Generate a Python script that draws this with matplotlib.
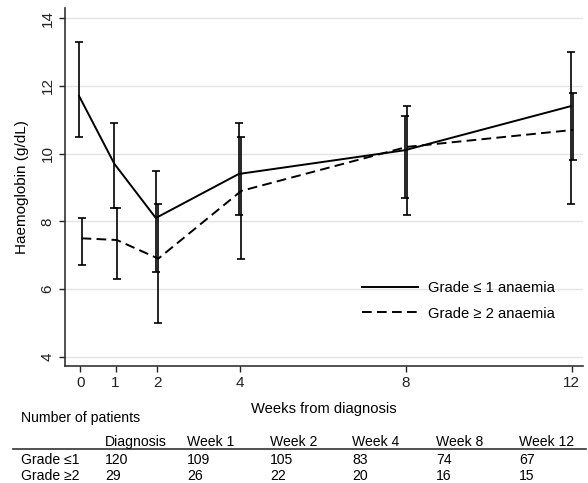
import numpy as np
import matplotlib.pyplot as plt

plt.rcParams['font.family'] = ['Liberation Sans', 'DejaVu Sans']

# visit time (weeks) and tick labels
visit_week = [0.15, 1, 2, 4, 8, 12]
week_labels = ['0', '1', '2', '4', '8', '12']

# Grade <=1 anaemia
g1_mean = [11.7, 9.7, 8.1, 9.4, 10.1, 11.4]
g1_low = [10.5, 8.4, 6.5, 8.2, 8.7, 8.5]
g1_high = [13.3, 10.9, 9.5, 10.9, 11.1, 13.0]

# Grade >=2 anaemia
g2_mean = [7.5, 7.45, 6.9, 8.9, 10.2, 10.7]
g2_low = [6.7, 6.3, 5.0, 6.9, 8.2, 9.8]
g2_high = [8.1, 8.4, 8.5, 10.5, 11.4, 11.8]

# number of patients table
col_names = ['Diagnosis', 'Week 1', 'Week 2', 'Week 4', 'Week 8', 'Week 12']
row_names = ['Grade \u22641', 'Grade \u22652']
n_g1 = [120, 109, 105, 83, 74, 67]
n_g2 = [29, 26, 22, 20, 16, 15]

W, H = 588, 483
fig = plt.figure(figsize=(W / 100, H / 100), dpi=100)
ax = fig.add_axes([65 / W, 1 - 366 / H, 518 / W, 358 / H])

dodge = 0.03
x = np.array(visit_week)


def draw(mean, low, high, dx, ls, label):
    mean = np.array(mean)
    err = [mean - np.array(low), np.array(high) - mean]
    ax.errorbar(x + dx, mean, yerr=err, fmt='none', ecolor='black',
                elinewidth=1.2, capsize=3, capthick=1.2, zorder=3)
    ax.plot(x + dx, mean, color='black', lw=1.4, ls=ls, label=label, zorder=4)


draw(g1_mean, g1_low, g1_high, -dodge, '-', 'Grade \u2264 1 anaemia')
draw(g2_mean, g2_low, g2_high, dodge, (0, (5, 2.7)), 'Grade \u2265 2 anaemia')

ax.set_xlim(-0.22, 12.27)
ax.set_ylim(3.73, 14.3)
ax.set_xticks(visit_week)
ax.set_xticklabels(week_labels)
ax.set_yticks([4, 6, 8, 10, 12, 14])
ax.grid(axis='y', color='#e4e4e4', lw=1)
ax.set_axisbelow(True)
for s in ['top', 'right']:
    ax.spines[s].set_visible(False)
for s in ['left', 'bottom']:
    ax.spines[s].set_color('#333333')
    ax.spines[s].set_linewidth(1.2)
ax.tick_params(length=4, width=1, labelsize=11, colors='#222222')
for t in ax.get_yticklabels():
    t.set_rotation(90)
    t.set_va('center')
ax.set_ylabel('Haemoglobin (g/dL)', fontsize=11, labelpad=8)
ax.set_xlabel('Weeks from diagnosis', fontsize=10.6, labelpad=8)

ax.legend(loc='center left', bbox_to_anchor=((362 - 65) / 518, (366 - 301) / 358),
          frameon=False, fontsize=10.6, handlelength=3.8, handletextpad=0.7,
          labelspacing=0.75, borderpad=0, borderaxespad=0)

# table of patient numbers
def px(xp, yp):
    return xp / W, 1 - yp / H

col_x = [105, 187, 270, 352, 436, 519]
fs = 10.1
fig.text(*px(21, 418), 'Number of patients', fontsize=fs, va='center')
for cx, name in zip(col_x, col_names):
    fig.text(*px(cx, 442), name, fontsize=fs, va='center')
fig.add_artist(plt.Line2D([13 / W, 586 / W], [1 - 449 / H] * 2, color='#333333', lw=1.2))
for yp, rname, vals in [(460, row_names[0], n_g1), (476, row_names[1], n_g2)]:
    fig.text(*px(21, yp), rname, fontsize=fs, va='center')
    for cx, v in zip(col_x, vals):
        fig.text(*px(cx, yp), str(v), fontsize=fs, va='center')

fig.savefig('out.png', dpi=100)
